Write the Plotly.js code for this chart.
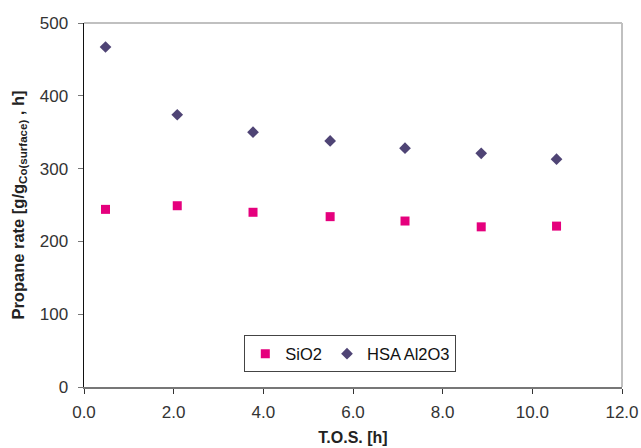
<!DOCTYPE html>
<html>
<head>
<meta charset="utf-8">
<script src="https://cdn.plot.ly/plotly-3.0.1.min.js"></script>
<style>html,body{margin:0;padding:0;background:#fff;}#chart{width:641px;height:448px;}</style>
</head>
<body>
<div id="chart"></div>
<script>
const tos = [0.48, 2.08, 3.77, 5.49, 7.16, 8.86, 10.54];
const sio2 = [244, 249, 240, 234, 228, 220, 221];
const hsaAl2o3 = [467, 374, 350, 338, 328, 321, 313];
const seriesNames = ['SiO2', 'HSA Al2O3'];
const xTickVals = [0, 2, 4, 6, 8, 10, 12];
const xTickText = ['0.0', '2.0', '4.0', '6.0', '8.0', '10.0', '12.0'];
const yTickVals = [0, 100, 200, 300, 400, 500];

const traces = [
  {x: tos, y: sio2, name: seriesNames[0], type: 'scatter', mode: 'markers',
   marker: {symbol: 'square', size: 9, color: '#e5007d'}},
  {x: tos, y: hsaAl2o3, name: seriesNames[1], type: 'scatter', mode: 'markers',
   marker: {symbol: 'diamond', size: 9, color: '#4f4475'}}
];

const font = {family: 'Liberation Sans, Arial, sans-serif', color: '#333'};

const layout = {
  width: 641, height: 448,
  margin: {l: 84, r: 19, t: 23, b: 61},
  paper_bgcolor: '#fff', plot_bgcolor: '#fff',
  font: font,
  showlegend: true,
  legend: {
    orientation: 'h', x: 0.495, xanchor: 'center', y: 0.04, yanchor: 'bottom',
    bgcolor: '#fff', bordercolor: '#444', borderwidth: 1,
    font: {family: font.family, size: 16.5, color: '#111'},
    itemwidth: 30, tracegroupgap: 0
  },
  xaxis: {
    range: [0, 12], tickvals: xTickVals, ticktext: xTickText,
    showline: true, linecolor: '#777', linewidth: 2, mirror: false,
    ticks: 'outside', ticklen: 5, tickcolor: '#333', tickwidth: 1,
    showgrid: false, zeroline: false, ticklabelstandoff: 4,
    tickfont: {family: font.family, size: 17, color: '#333'},
    title: {text: '<b>T.O.S. [h]</b>', font: {family: font.family, size: 16, color: '#222'}, standoff: 10}
  },
  yaxis: {
    range: [0, 500], tickvals: yTickVals,
    showline: true, linecolor: '#111', linewidth: 1.5,
    ticks: 'outside', ticklen: 5, tickcolor: '#777', tickwidth: 1,
    showgrid: false, zeroline: false, ticklabelstandoff: 6,
    tickfont: {family: font.family, size: 17, color: '#333'},
    title: {text: '<b>Propane rate [g/g<sub>Co(surface)</sub> , h]</b>', font: {family: font.family, size: 16.5, color: '#222'}, standoff: 11}
  },
  shapes: [
    {type: 'line', xref: 'paper', yref: 'paper', x0: 0, x1: 1, y0: 1, y1: 1, line: {color: '#c0c0c0', width: 2}},
    {type: 'line', xref: 'paper', yref: 'paper', x0: 1, x1: 1, y0: 0, y1: 1, line: {color: '#c0c0c0', width: 2}}
  ]
};

Plotly.newPlot('chart', traces, layout, {displayModeBar: false, staticPlot: true});
</script>
</body>
</html>
